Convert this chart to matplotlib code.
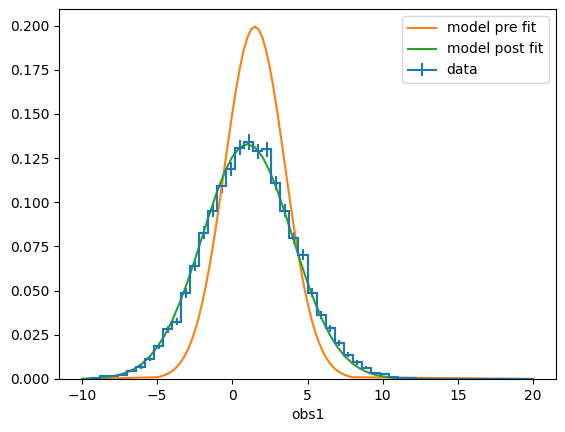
import numpy as np
import matplotlib
matplotlib.use("Agg")
import matplotlib.pyplot as plt

# histogram: 50 bins of width 0.6 from -10 to 20 (density)
bin_edges = np.linspace(-10, 20, 51)
counts = [0.0002, 0.0005, 0.0015, 0.0017, 0.0020, 0.0046, 0.0069, 0.0115, 0.0185, 0.0282,
          0.0325, 0.0487, 0.0640, 0.0829, 0.0952, 0.1090, 0.1190, 0.1310, 0.1340, 0.1290,
          0.1300, 0.1110, 0.0952, 0.0797, 0.0703, 0.0489, 0.0363, 0.0287, 0.0202, 0.0136,
          0.0094, 0.0064, 0.0032, 0.0027, 0.0012, 0.0007, 0.0004, 0.0002, 0.0001, 0.0,
          0.0, 0.0, 0.0, 0.0, 0.0, 0.0, 0.0, 0.0, 0.0, 0.0]
errors = [0.0002, 0.0003, 0.0005, 0.0005, 0.0005, 0.0008, 0.0010, 0.0013, 0.0016, 0.0020,
          0.0022, 0.0026, 0.0030, 0.0035, 0.0037, 0.0040, 0.0041, 0.0043, 0.0044, 0.0043,
          0.0043, 0.0040, 0.0037, 0.0034, 0.0032, 0.0027, 0.0023, 0.0020, 0.0017, 0.0014,
          0.0012, 0.0010, 0.0007, 0.0006, 0.0004, 0.0003, 0.0002, 0.0002, 0.0001, 0.0,
          0.0, 0.0, 0.0, 0.0, 0.0, 0.0, 0.0, 0.0, 0.0, 0.0]

# pre fit model: sampled every 0.25 from -5 to 8, zero at the range ends
x_pre = np.concatenate([[-10], np.arange(-5, 8.001, 0.25), [20]])
pre_fit = [0,
           0.00101, 0.00151, 0.00222, 0.00320, 0.00455, 0.00636, 0.00876, 0.01188, 0.0159, 0.02086,
           0.0270, 0.03439, 0.0432, 0.05327, 0.0648, 0.07751, 0.0913, 0.10594, 0.1210, 0.13603,
           0.1506, 0.16408, 0.1760, 0.18593, 0.1933, 0.19792, 0.19947,
           0.19792, 0.1933, 0.18593, 0.1760, 0.16408, 0.1506, 0.13603, 0.1210, 0.10594, 0.0913,
           0.07751, 0.0648, 0.05327, 0.0432, 0.03439, 0.0270, 0.02086, 0.0159, 0.01188, 0.00876,
           0.00636, 0.00455, 0.00320, 0.00222, 0.00151, 0.00101,
           0]

# post fit model: sampled every 0.5 from -10 to 20
x_post = np.arange(-10, 20.001, 0.5)
post_fit = [0.00016, 0.00029, 0.00051, 0.00088, 0.00148, 0.00240, 0.00380, 0.00584, 0.00874, 0.01272,
            0.01800, 0.02477, 0.03317, 0.04318, 0.05467, 0.06733, 0.08066, 0.09397, 0.10648, 0.11736,
            0.12579, 0.13115, 0.13298, 0.13115, 0.12579, 0.11736, 0.10648, 0.09397, 0.08066, 0.06733,
            0.05467, 0.04318, 0.03317, 0.02477, 0.01800, 0.01272, 0.00874, 0.00584, 0.00380, 0.00240,
            0.00148, 0.00088, 0.00051, 0.00029, 0.00016, 0.00009, 0.00004, 0.00002, 0.00001, 0,
            0, 0, 0, 0, 0, 0, 0, 0, 0, 0, 0]

fig = plt.figure(figsize=(5.65, 4.32), dpi=100)
ax = fig.add_axes([0.1053, 0.1227, 0.8779, 0.8565])

centers = 0.5 * (bin_edges[1:] + bin_edges[:-1])
ax.stairs(counts, bin_edges, color="C0", linewidth=1.5)
ax.errorbar(centers, counts, yerr=errors, color="C0", drawstyle="steps-mid", label="data")

ax.plot(x_pre, pre_fit, color="C1", label="model pre fit")
ax.plot(x_post, post_fit, color="C2", label="model post fit")

ax.set_ylim(bottom=0)
ax.set_xlabel("obs1")
ax.legend(loc="upper right")

fig.savefig("out.png", dpi=100)
